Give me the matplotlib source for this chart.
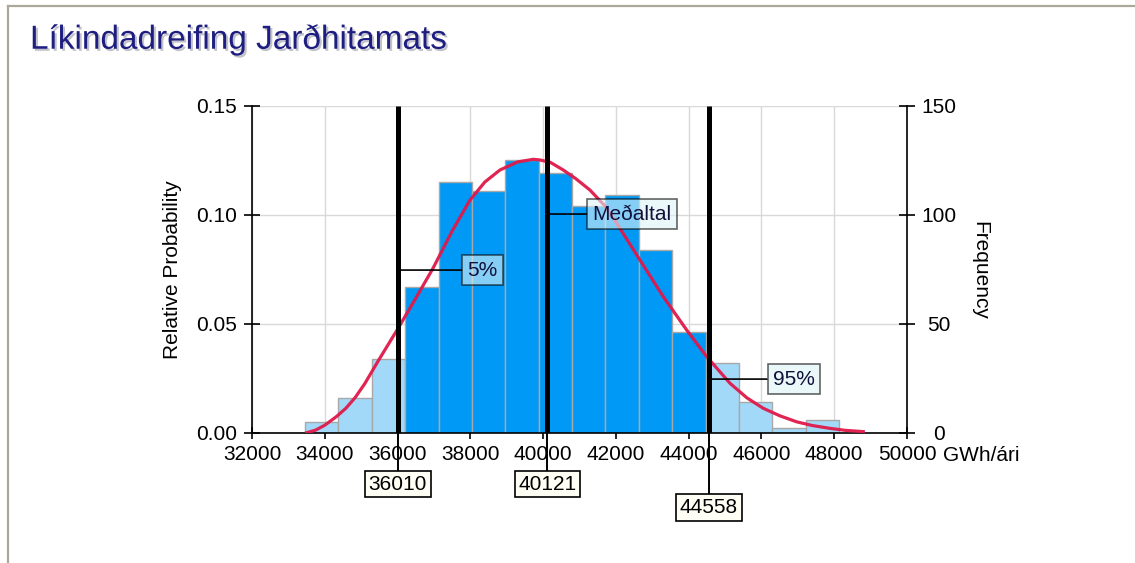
import numpy as np
import matplotlib
matplotlib.use("Agg")
import matplotlib.pyplot as plt
import matplotlib.patheffects as pe
from matplotlib.lines import Line2D
from matplotlib.transforms import blended_transform_factory

plt.rcParams['font.family'] = ['Liberation Sans', 'DejaVu Sans']

# histogram (sample count per bin, 1000 samples)
bin_edges = [33456, 34374, 35291, 36209, 37127, 38044, 38962, 39880, 40797,
             41715, 42633, 43550, 44468, 45386, 46303, 47221, 48139]
counts = [5, 16, 34, 67, 115, 111, 125, 119, 104, 109, 84, 46, 32, 14, 2, 6]
n_samples = 1000

# fitted density curve
curve_x = [33503, 33750, 34006, 34328, 34580, 34830, 35100, 35471, 36020,
           36526, 36974, 37500, 37991, 38400, 38815, 39300, 39730, 39914,
           40200, 40554, 40900, 41288, 41700, 42022, 42662, 43303, 43946,
           44495, 45135, 45600, 46051, 46500, 46968, 47400, 47883, 48300, 48799]
curve_y = [0.0, 0.0012, 0.0035, 0.0075, 0.0112, 0.0160, 0.0225, 0.0330, 0.0480,
           0.0624, 0.0754, 0.0925, 0.1067, 0.1150, 0.1205, 0.1242, 0.1254, 0.1251,
           0.1240, 0.1205, 0.1165, 0.1113, 0.1040, 0.0961, 0.0792, 0.0624, 0.0471,
           0.0349, 0.0227, 0.0160, 0.0112, 0.0078, 0.0050, 0.0033, 0.0020, 0.0011,
           0.0005]

p5, p_mean, p95 = 36010, 40121, 44558
tag_names = ['5%', 'Meðaltal', '95%']
tag_y = [0.0746, 0.1003, 0.0246]
tag_text_x = [38340, 42448, 46886]

xticks = [32000, 34000, 36000, 38000, 40000, 42000, 44000, 46000, 48000, 50000]
yticks = [0.00, 0.05, 0.10, 0.15]
freq_ticks = [0, 50, 100, 150]

fig = plt.figure(figsize=(11.35, 5.63), dpi=100)
ax = fig.add_axes([0.2220, 0.2314, 0.5771, 0.5809])

dark = '#0099f5'
light = '#a3d9f8'
edges = np.array(bin_edges)
left = edges[:-1]
width = np.diff(edges)
prob = np.array(counts) / n_samples
centers = left + width / 2
cols = [dark if p5 <= c <= p95 else light for c in centers]
ax.bar(left, prob, width=width, align='edge', color=cols,
       edgecolor='#a8a8a8', linewidth=1, zorder=2)

ax.plot(curve_x, curve_y, color='#e0194a', lw=2.3, zorder=3, alpha=0.95,
        solid_joinstyle='round')

ax.set_xlim(32000, 50000)
ax.set_ylim(0, 0.15)
ax.set_xticks(xticks)
ax.set_yticks(yticks)
ax.set_yticklabels(['%.2f' % v for v in yticks])
ax.grid(True, color='#d9d9d9', lw=1, zorder=0)
ax.set_axisbelow(True)
for s in ['left', 'bottom']:
    ax.spines[s].set_linewidth(1.2)
ax.spines['top'].set_visible(False)
ax.spines['right'].set_visible(False)
ax.tick_params(axis='y', direction='inout', length=12, width=1.2, pad=5,
               labelsize=15, colors='black')
ax.tick_params(axis='x', direction='inout', length=9, width=1.2, pad=4,
               labelsize=15, colors='black')

ax2 = ax.twinx()
ax2.set_ylim(0, 150)
ax2.set_yticks(freq_ticks)
ax2.spines['top'].set_visible(False)
ax2.spines['left'].set_visible(False)
ax2.spines['bottom'].set_visible(False)
ax2.spines['right'].set_linewidth(1.2)
ax2.tick_params(axis='y', direction='inout', length=12, width=1.2, pad=17,
                labelsize=15)
for t in ax2.get_yticklabels():
    t.set_ha('center')

# percentile / mean lines
trans = blended_transform_factory(ax.transData, ax.transAxes)
low_ends = [-0.122, -0.122, -0.194]
box_y = [-0.157, -0.157, -0.229]
for xv, y_end, by in zip([p5, p_mean, p95], low_ends, box_y):
    ax.plot([xv, xv], [0, 1], color='black', lw=3.6, transform=trans,
            zorder=5, solid_capstyle='butt')
    ax.plot([xv, xv], [0, y_end], color='black', lw=1.4, transform=trans,
            zorder=5, clip_on=False)
    ax.text(xv, by, str(xv), transform=trans, ha='center', va='center',
            fontsize=15, zorder=6,
            bbox=dict(boxstyle='square,pad=0.18', fc='#fffef4', ec='black', lw=1.2))

for name, xv, yv, tx in zip(tag_names, [p5, p_mean, p95], tag_y, tag_text_x):
    ax.annotate(name, xy=(xv, yv), xytext=(tx, yv), ha='center', va='center',
                fontsize=15, color='#10103a', zorder=7,
                bbox=dict(boxstyle='square,pad=0.25', fc='#dff4f8', ec='black',
                          lw=1.2, alpha=0.6),
                arrowprops=dict(arrowstyle='-', color='black', lw=1.2,
                                shrinkA=0, shrinkB=0))

ax.text(1.055, -0.071, 'GWh/ári', transform=ax.transAxes, ha='left',
        va='center', fontsize=15)
fig.text(173 / 1135, 1 - 270 / 563, 'Relative Probability', rotation=90,
         ha='center', va='center', fontsize=15)
fig.text(980 / 1135, 1 - 270 / 563, 'Frequency', rotation=270,
         ha='center', va='center', fontsize=15)

fig.text(30 / 1135, 1 - 40 / 563, 'Líkindadreifing Jarðhitamats', fontsize=24,
         color='#1e1e80', ha='left', va='center',
         path_effects=[pe.withSimplePatchShadow(offset=(1.5, -1.5),
                                                shadow_rgbFace='#9a9aa8', alpha=0.6)])

# page frame
fig.add_artist(Line2D([7.5 / 1135, 1], [1 - 5.5 / 563, 1 - 5.5 / 563],
                      color='#aca899', lw=1.6, transform=fig.transFigure))
fig.add_artist(Line2D([7.5 / 1135, 7.5 / 1135], [0, 1 - 5.5 / 563],
                      color='#aca899', lw=1.6, transform=fig.transFigure))

fig.savefig('out.png', dpi=100)
